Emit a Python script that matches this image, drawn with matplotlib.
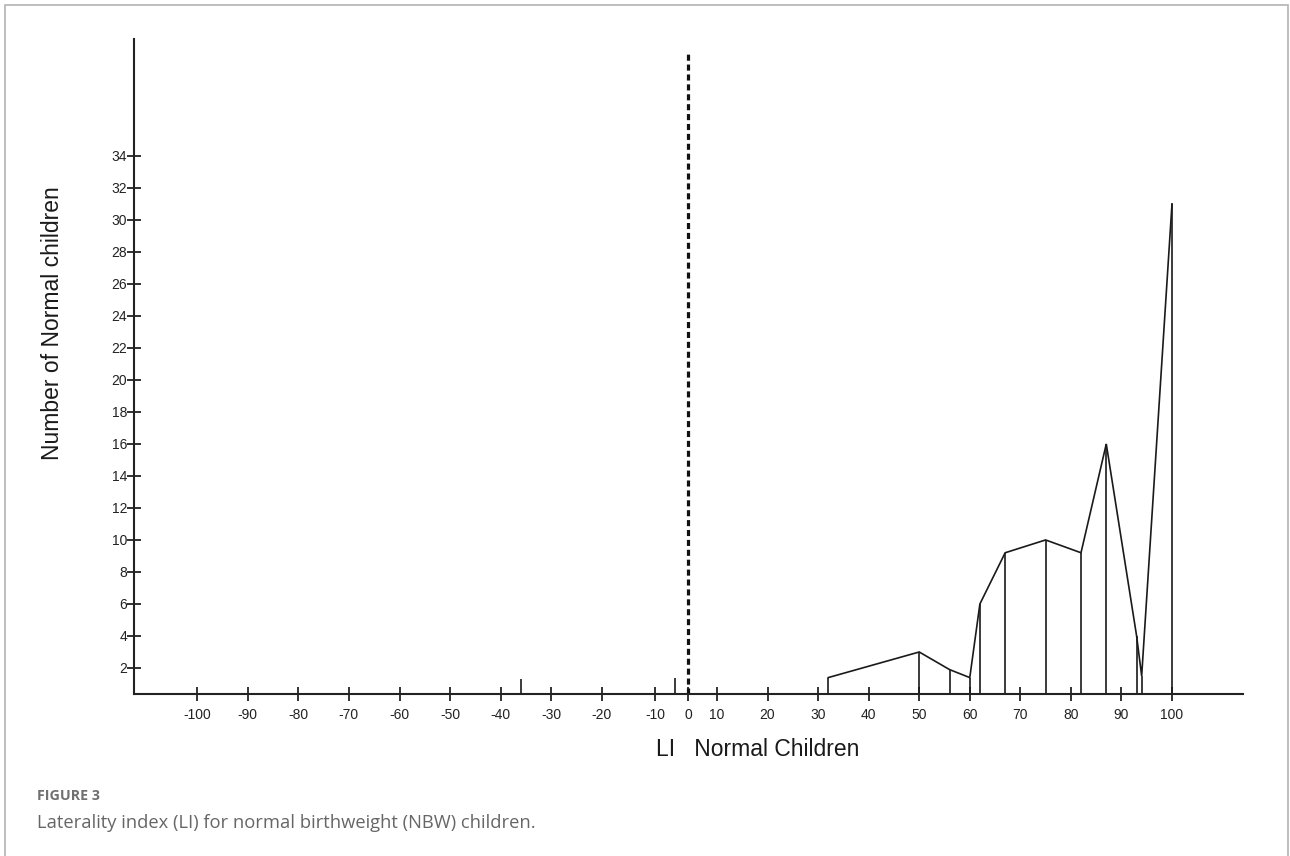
import matplotlib.pyplot as plt
import numpy as np
from matplotlib.patches import Rectangle

plt.rcParams['font.family'] = ['Liberation Sans', 'DejaVu Sans']

# laterality index (LI) and number of children
li_values = [32, 50, 56, 60, 62, 67, 75, 82, 87, 93, 94, 100]
counts = [1.4, 3.0, 1.9, 1.4, 6.0, 9.2, 10.0, 9.2, 16.0, 4.0, 1.5, 31.0]
# lone children on the negative side
neg_li = [-36, -4]
neg_counts = [1.3, 1.4]

x_ticks = [-100, -90, -80, -70, -60, -50, -40, -30, -20, -10, 0, 10, 20, 30, 40, 50, 60, 70, 80, 90, 100]
y_ticks = list(range(2, 36, 2))

#* the LI axis in the original is squeezed around zero: piecewise linear scale
anchor_li = np.array([-100.0, -20.0, -10.0, 0.0, 10.0, 100.0])
anchor_px = np.array([197.0, 602.0, 655.0, 688.0, 717.0, 1172.0])


def li_to_px(v):
    v = np.asarray(v, dtype=float)
    out = np.interp(v, anchor_li, anchor_px)
    lo = v < anchor_li[0]
    hi = v > anchor_li[-1]
    out = np.where(lo, anchor_px[0] + (v - anchor_li[0]) * 5.05, out)
    out = np.where(hi, anchor_px[-1] + (v - anchor_li[-1]) * 5.05, out)
    return out


def px_to_li(p):
    p = np.asarray(p, dtype=float)
    out = np.interp(p, anchor_px, anchor_li)
    lo = p < anchor_px[0]
    hi = p > anchor_px[-1]
    out = np.where(lo, anchor_li[0] + (p - anchor_px[0]) / 5.05, out)
    out = np.where(hi, anchor_li[-1] + (p - anchor_px[-1]) / 5.05, out)
    return out


W, H = 1290, 856
fig = plt.figure(figsize=(W / 100, H / 100), dpi=100)

# light gray frame around the figure panel
fig.patches.append(Rectangle((5 / W, -0.1), (1288 - 5) / W, 1.1 - 5 / H,
                             transform=fig.transFigure, fill=False,
                             edgecolor='#b3b3b3', linewidth=1.2))

left, right, top, bottom = 134, 1243, 39, 694
ax = fig.add_axes([left / W, 1 - bottom / H, (right - left) / W, (bottom - top) / H])
ax.set_xscale('function', functions=(li_to_px, px_to_li))
ax.set_xlim(float(px_to_li(left)), float(px_to_li(right)))
ax.set_ylim(0.375, 41.3)
base = ax.get_ylim()[0]

for s in ['top', 'right']:
    ax.spines[s].set_visible(False)
for s in ['left', 'bottom']:
    ax.spines[s].set_linewidth(1.5)
    ax.spines[s].set_color('#222222')

lc = '#1a1a1a'
ax.plot(li_values, counts, color=lc, lw=1.2, solid_joinstyle='miter')
ax.vlines(li_values, base, counts, color=lc, lw=1.2)
ax.vlines(neg_li, base, neg_counts, color=lc, lw=1.2)

# zero line
ax.vlines(0, base, 40.5, color='#111111', lw=2.3, linestyles=(0, (1.9, 1.2)))

ax.set_xticks(x_ticks)
ax.set_xticklabels([str(t) for t in x_ticks])
ax.set_yticks(y_ticks)
ax.set_yticklabels([str(t) for t in y_ticks])
ax.tick_params(axis='x', direction='inout', length=10, width=1.3, pad=5,
               labelsize=10, colors='#222222')
ax.tick_params(axis='y', direction='inout', length=10, width=1.3, pad=0,
               labelsize=10, colors='#222222')
ax.minorticks_off()

fig.text(53 / W, 1 - 323 / H, 'Number of Normal children', rotation=90,
         ha='center', va='center', fontsize=16.5, color='#1a1a1a')
fig.text(758 / W, 1 - 750 / H, 'LI   Normal Children', ha='center', va='center',
         fontsize=16.5, color='#1a1a1a')

fig.text(37 / W, 1 - 796 / H, 'FIGURE 3', ha='left', va='center', fontsize=10.3,
         fontweight='bold', color='#707070', family=['Open Sans', 'DejaVu Sans'])
fig.text(37 / W, 1 - 823 / H, 'Laterality index (LI) for normal birthweight (NBW) children.',
         ha='left', va='center', fontsize=13.2, color='#666666',
         family=['Open Sans', 'DejaVu Sans'])

fig.savefig('out.png', dpi=100)
